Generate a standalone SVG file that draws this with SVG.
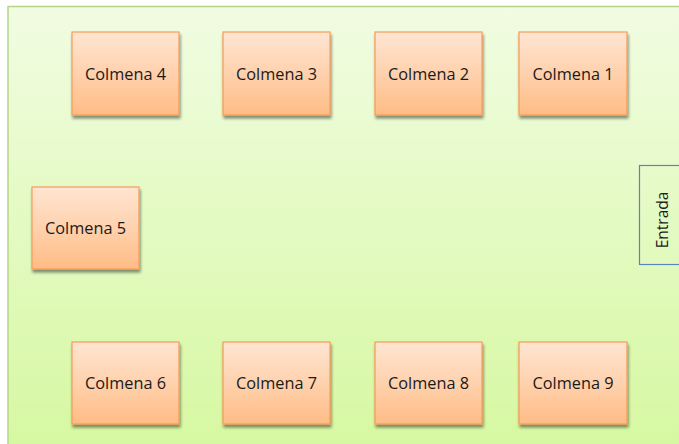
<svg xmlns="http://www.w3.org/2000/svg" width="679" height="444" viewBox="0 0 679 444">
<defs>
<linearGradient id="bg" x1="0" y1="0" x2="0" y2="1">
<stop offset="0" stop-color="#f1fce2"/>
<stop offset="1" stop-color="#d6f8a0"/>
</linearGradient>
<linearGradient id="box" x1="0" y1="0" x2="0" y2="1">
<stop offset="0" stop-color="#ffe5d2"/>
<stop offset="0.5" stop-color="#ffd1ad"/>
<stop offset="1" stop-color="#ffbc85"/>
</linearGradient>
<filter id="sh" x="-10%" y="-10%" width="130%" height="130%">
<feGaussianBlur in="SourceAlpha" stdDeviation="1.5"/>
<feOffset dx="1" dy="2.5" result="o"/>
<feComponentTransfer><feFuncA type="linear" slope="0.45"/></feComponentTransfer>
<feMerge><feMergeNode/><feMergeNode in="SourceGraphic"/></feMerge>
</filter>
</defs>
<style>
.b{fill:url(#box);stroke:#f79b55;stroke-width:1.2;filter:url(#sh)}
.t{font-family:"Open Sans","Liberation Sans",sans-serif;font-size:16.3px;fill:#1a1a1a;text-anchor:middle;dominant-baseline:central}
.e{font-size:15.5px}
</style>
<rect x="0" y="0" width="679" height="444" fill="#ffffff"/>
<rect x="8" y="6.5" width="680" height="450" fill="url(#bg)" stroke="#b5d38a" stroke-width="1.5"/>
<g id="entrada">
<rect x="639.5" y="165.5" width="50" height="99" fill="none" stroke="#5b84bf" stroke-width="1.2"/>
<text class="t e" transform="translate(662,220) rotate(-90)">Entrada</text>
</g>
<g id="colmena4"><rect class="b" x="72" y="32" width="107" height="83"/><text class="t" x="125.5" y="73.5">Colmena 4</text></g>
<g id="colmena3"><rect class="b" x="223" y="32" width="107" height="83"/><text class="t" x="276.5" y="73.5">Colmena 3</text></g>
<g id="colmena2"><rect class="b" x="375" y="32" width="107" height="83"/><text class="t" x="428.5" y="73.5">Colmena 2</text></g>
<g id="colmena1"><rect class="b" x="519" y="32" width="108" height="83"/><text class="t" x="573" y="73.5">Colmena 1</text></g>
<g id="colmena5"><rect class="b" x="32" y="187" width="107" height="82"/><text class="t" x="85.5" y="228">Colmena 5</text></g>
<g id="colmena6"><rect class="b" x="72" y="342" width="107" height="82"/><text class="t" x="125.5" y="383">Colmena 6</text></g>
<g id="colmena7"><rect class="b" x="223" y="342" width="107" height="82"/><text class="t" x="276.5" y="383">Colmena 7</text></g>
<g id="colmena8"><rect class="b" x="375" y="342" width="107" height="82"/><text class="t" x="428.5" y="383">Colmena 8</text></g>
<g id="colmena9"><rect class="b" x="519" y="342" width="108" height="82"/><text class="t" x="573" y="383">Colmena 9</text></g>
<g id="connectors"/>
</svg>
